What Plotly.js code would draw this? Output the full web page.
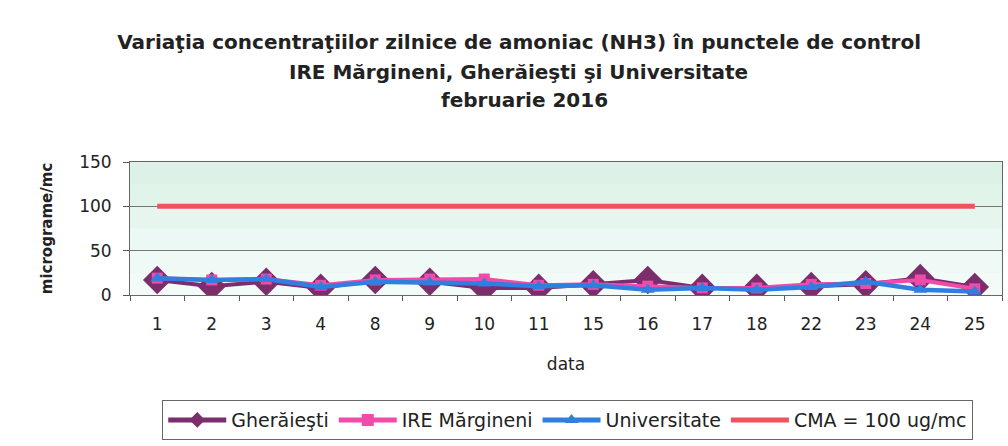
<!DOCTYPE html>
<html>
<head>
<meta charset="utf-8">
<script src="https://cdn.plot.ly/plotly-3.0.1.min.js"></script>
<style>html,body{margin:0;padding:0;background:#fff;}#chart{width:1008px;height:446px;}</style>
</head>
<body>
<div id="chart"></div>
<script>
const days = ["1","2","3","4","8","9","10","11","15","16","17","18","22","23","24","25"];
const gheraiesti = [17,10,15,8,17,15,8,8,12,17,8,8,10,12,19,9];
const ireMargineni = [19,17,18,11,17,18,18,11,12,10,8,8,12,13,17,7];
const universitate = [19,17,18,9,15,14,13,10,11,6,8,6,9,15,6,4];
const cma = [100,100,100,100,100,100,100,100,100,100,100,100,100,100,100,100];
const titleLines = [
  "Variaţia concentraţiilor zilnice de amoniac (NH3) în punctele de control",
  "IRE Mărgineni, Gherăieşti şi Universitate",
  "februarie 2016"
];

const FONT = "DejaVu Sans, Arial, sans-serif";

const traces = [
  {x: days, y: gheraiesti, name: "Gherăieşti", type: "scatter", mode: "lines+markers",
   line: {color: "#7b2d6c", width: 4}, marker: {symbol: "diamond", size: 22, color: "#7b2d6c"}},
  {x: days, y: ireMargineni, name: "IRE Mărgineni", type: "scatter", mode: "lines+markers",
   line: {color: "#f04aaa", width: 4}, marker: {symbol: "square", size: 11, color: "#f04aaa"}},
  {x: days, y: universitate, name: "Universitate", type: "scatter", mode: "lines+markers",
   line: {color: "#2f7fe0", width: 4.5}, marker: {symbol: "triangle-up", size: 12, color: "#2f7fe0"}},
  {x: days, y: cma, name: "CMA = 100 ug/mc", type: "scatter", mode: "lines",
   line: {color: "#f2515e", width: 5}}
];

const bands = ["#dcf2e6","#e1f4ea","#e6f6ee","#ebf8f3","#eff9f6","#f3fbf9"];
const shapes = bands.map((c, i) => ({
  type: "rect", xref: "x domain", yref: "y domain", layer: "below",
  x0: 0, x1: 1, y0: 1 - (i + 1) / bands.length, y1: 1 - i / bands.length,
  fillcolor: c, line: {width: 0}
}));

const layout = {
  width: 1008, height: 446,
  margin: {l: 130, r: 6, t: 162, b: 149},
  paper_bgcolor: "#ffffff",
  plot_bgcolor: "#e8f6ef",
  font: {family: FONT, color: "#222"},
  title: {
    text: "<b>" + titleLines[0] + "</b>",
    font: {size: 20, color: "#222", family: FONT},
    x: 0.515, xref: "container", xanchor: "center",
    y: 1 - 42 / 446, yref: "container", yanchor: "middle"
  },
  annotations: [
    {text: "<b>" + titleLines[1] + "</b>", xref: "paper", yref: "paper", x: 0.446, y: 1.674,
     xanchor: "center", yanchor: "middle", showarrow: false, font: {size: 20, color: "#222", family: FONT}},
    {text: "<b>" + titleLines[2] + "</b>", xref: "paper", yref: "paper", x: 0.452, y: 1.467,
     xanchor: "center", yanchor: "middle", showarrow: false, font: {size: 20, color: "#222", family: FONT}}
  ],
  xaxis: {
    type: "category", range: [-0.5, 15.5], tickson: "boundaries", ticks: "outside", ticklen: 5,
    tickcolor: "#555", showline: true, linecolor: "#666", linewidth: 1, mirror: true,
    showgrid: false, tickfont: {size: 17}, ticklabelstandoff: 14,
    title: {text: "data", font: {size: 17}, standoff: 24}
  },
  yaxis: {
    range: [0, 150], tickvals: [0, 50, 100, 150], ticks: "outside", ticklen: 6,
    tickcolor: "#555", showline: true, linecolor: "#666", linewidth: 1, mirror: true,
    gridcolor: "#777", gridwidth: 1, zeroline: false, tickfont: {size: 17}, ticklabelstandoff: 8,
    title: {text: "<b>micrograme/mc</b>", font: {size: 15}, standoff: 22}
  },
  shapes: shapes,
  showlegend: true,
  legend: {
    orientation: "h", x: 0.502, xanchor: "center", y: -0.79, yanchor: "top",
    bordercolor: "#666", borderwidth: 1, font: {size: 19}, itemwidth: 58,
    itemsizing: "constant", bgcolor: "#ffffff"
  }
};

Plotly.newPlot("chart", traces, layout, {displayModeBar: false, staticPlot: true});
</script>
</body>
</html>
